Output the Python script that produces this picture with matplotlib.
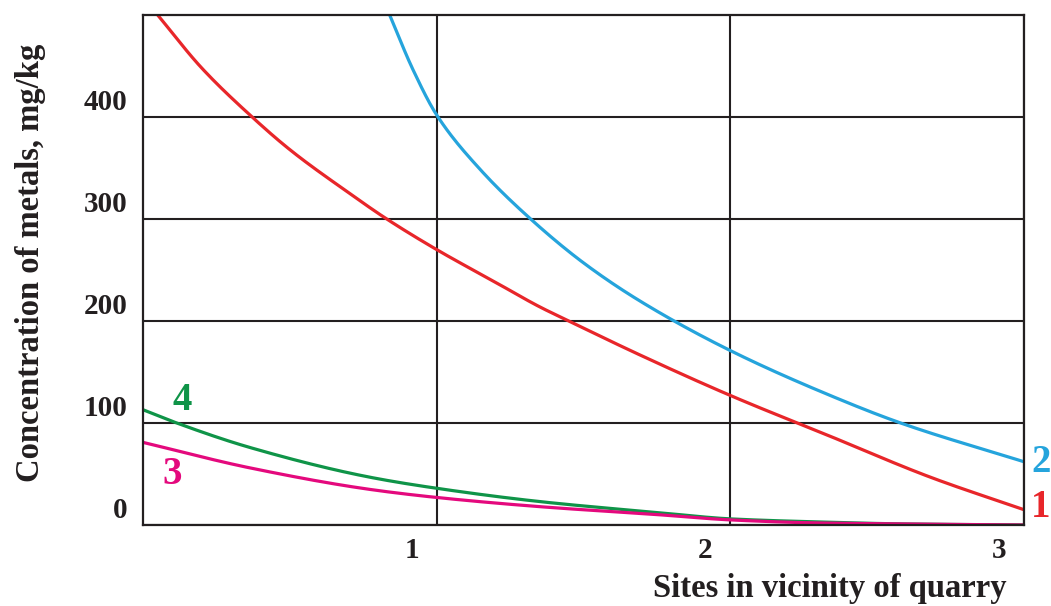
import numpy as np
import matplotlib
matplotlib.use("Agg")
import matplotlib.pyplot as plt
from matplotlib.transforms import ScaledTranslation

# values
site_1 = [0.05, 0.2, 0.364, 0.5, 0.704, 0.83, 1.0, 1.2, 1.35, 1.45, 1.69, 2.0, 2.34, 2.68, 3.0]
conc_1 = [500, 448, 402, 368, 325, 300, 270, 238, 214, 200, 167, 127, 87, 47, 15]

site_2 = [0.84, 0.92, 1.0, 1.15, 1.32, 1.5, 1.69, 2.0, 2.34, 2.58, 3.0]
conc_2 = [500, 446, 402, 348, 300, 257, 220, 171, 127, 100, 62]

site_4 = [0, 0.115, 0.364, 0.77, 1.0, 1.35, 1.76, 2.0, 2.3, 2.6, 3.0]
conc_4 = [113, 100, 76, 47, 36, 23, 12, 6, 3, 1, 0]

site_3 = [0, 0.364, 0.77, 1.0, 1.35, 1.76, 2.0, 2.3, 2.6, 3.0]
conc_3 = [81, 56, 35, 27, 18, 10, 5, 2, 1, 0]

x_ticks = [1, 2, 3]
y_ticks = [0, 100, 200, 300, 400]

red = "#e8262a"
blue = "#25a4dc"
green = "#0f9448"
pink = "#e4097d"
dark = "#231f20"


def smooth(x, y, n=300):
    # monotone cubic (pchip) through the read points, only for drawing
    x = np.asarray(x, float)
    y = np.asarray(y, float)
    h = np.diff(x)
    d = np.diff(y) / h
    m = np.zeros_like(y)
    for k in range(1, len(x) - 1):
        if d[k - 1] * d[k] > 0:
            w1 = 2 * h[k] + h[k - 1]
            w2 = h[k] + 2 * h[k - 1]
            m[k] = (w1 + w2) / (w1 / d[k - 1] + w2 / d[k])
    m[0] = d[0]
    m[-1] = d[-1]
    xs = np.linspace(x[0], x[-1], n)
    i = np.clip(np.searchsorted(x, xs) - 1, 0, len(x) - 2)
    t = (xs - x[i]) / h[i]
    h00 = 2 * t**3 - 3 * t**2 + 1
    h10 = t**3 - 2 * t**2 + t
    h01 = -2 * t**3 + 3 * t**2
    h11 = t**3 - t**2
    ys = h00 * y[i] + h10 * h[i] * m[i] + h01 * y[i + 1] + h11 * h[i] * m[i + 1]
    return xs, ys


plt.rcParams["font.family"] = ["Liberation Serif", "DejaVu Serif"]
plt.rcParams["font.weight"] = "bold"

fig = plt.figure(figsize=(10.51, 6.06), dpi=100)
ax = fig.add_axes([143 / 1051, 1 - 525 / 606, 881 / 1051, 510 / 606])

ax.set_xlim(0, 3)
ax.set_ylim(0, 500)

ax.plot(*smooth(site_1, conc_1), color=red, lw=2.3, solid_capstyle="butt")
ax.plot(*smooth(site_2, conc_2), color=blue, lw=2.3, solid_capstyle="butt")
ax.plot(*smooth(site_4, conc_4), color=green, lw=2.3, solid_capstyle="butt")
ax.plot(*smooth(site_3, conc_3), color=pink, lw=2.3, solid_capstyle="butt")

# grid
ax.set_xticks(x_ticks)
ax.set_yticks(y_ticks)
ax.grid(True, color=dark, lw=1.5)
ax.set_axisbelow(True)
for s in ax.spines.values():
    s.set_color(dark)
    s.set_linewidth(1.6)
ax.tick_params(length=0, labelsize=21, colors=dark)
ax.tick_params(axis="y", pad=11)
ax.tick_params(axis="x", pad=9)

# labels sit off the grid lines in the original
for lab in ax.get_yticklabels():
    lab.set_transform(lab.get_transform() + ScaledTranslation(0, 0.18, fig.dpi_scale_trans))
for lab in ax.get_xticklabels():
    lab.set_transform(lab.get_transform() + ScaledTranslation(-0.25, 0, fig.dpi_scale_trans))

ax.set_ylabel("Concentration of metals, mg/kg", fontsize=23.5, fontweight="bold", color=dark)
ax.yaxis.label.set_va("center")
ax.yaxis.set_label_coords(-0.128, 0.515)
ax.set_xlabel("Sites in vicinity of quarry", fontsize=23.5, fontweight="bold", color=dark)
ax.xaxis.label.set_va("center")
ax.xaxis.set_label_coords(0.78, -0.124)

# curve numbers
ax.text(0.133, 122, "4", color=green, fontsize=28, fontweight="bold", ha="center", va="center", clip_on=False)
ax.text(0.10, 50, "3", color=pink, fontsize=28, fontweight="bold", ha="center", va="center", clip_on=False)
ax.text(3.025, 61, "2", color=blue, fontsize=28, fontweight="bold", ha="left", va="center", clip_on=False)
ax.text(3.025, 17, "1", color=red, fontsize=28, fontweight="bold", ha="left", va="center", clip_on=False)

fig.savefig("out.png", dpi=100)
